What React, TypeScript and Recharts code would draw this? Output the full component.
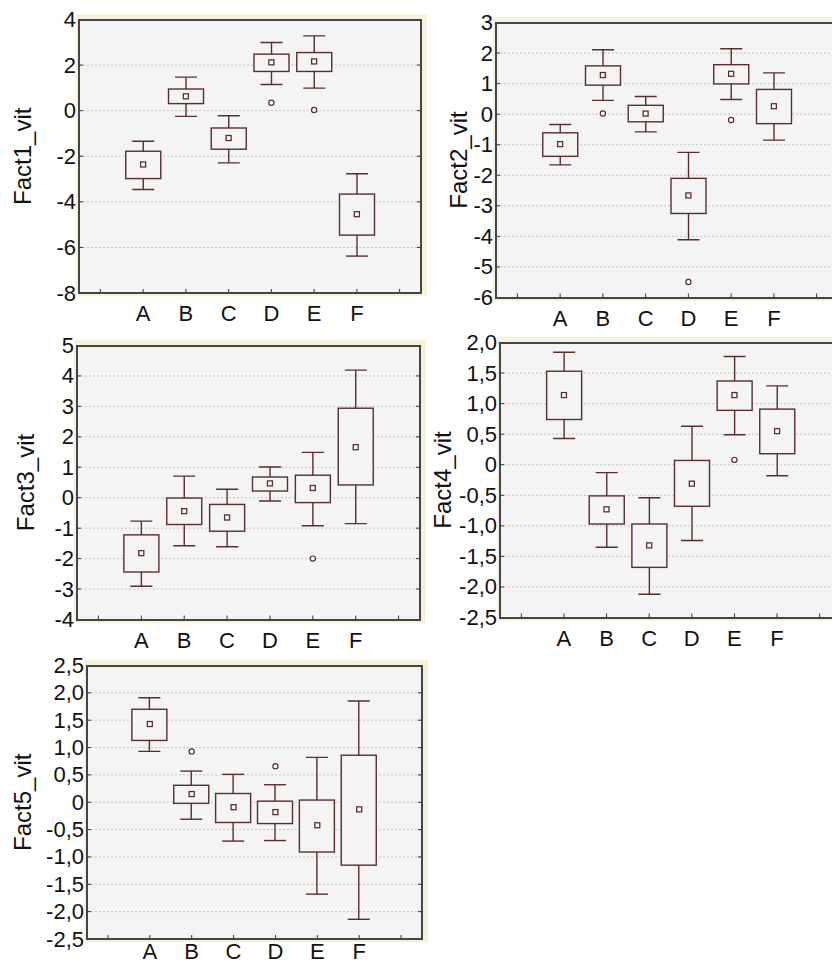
import { ComposedChart, Bar, Scatter, XAxis, YAxis, CartesianGrid, Label } from 'recharts';

const categories = ['A', 'B', 'C', 'D', 'E', 'F'];

// Fact1_vit
const fact1Min = [-3.46, -0.25, -2.29, 1.15, 0.99, -6.38];
const fact1Q1 = [-2.98, 0.31, -1.69, 1.72, 1.72, -5.46];
const fact1Med = [-2.36, 0.63, -1.2, 2.12, 2.16, -4.54];
const fact1Q3 = [-1.78, 0.95, -0.76, 2.48, 2.55, -3.66];
const fact1Max = [-1.34, 1.47, -0.22, 2.99, 3.28, -2.77];
const fact1Out = [null, null, null, 0.35, 0.03, null];
const fact1Ticks = [-8, -6, -4, -2, 0, 2, 4];

// Fact2_vit
const fact2Min = [-1.66, 0.45, -0.58, -4.11, 0.48, -0.85];
const fact2Q1 = [-1.38, 0.95, -0.25, -3.25, 0.99, -0.31];
const fact2Med = [-0.98, 1.28, 0.02, -2.66, 1.32, 0.26];
const fact2Q3 = [-0.61, 1.58, 0.29, -2.1, 1.62, 0.81];
const fact2Max = [-0.34, 2.11, 0.58, -1.25, 2.14, 1.35];
const fact2Out = [null, 0.02, null, -5.49, -0.19, null];
const fact2Ticks = [-6, -5, -4, -3, -2, -1, 0, 1, 2, 3];

// Fact3_vit
const fact3Min = [-2.91, -1.58, -1.61, -0.11, -0.92, -0.85];
const fact3Q1 = [-2.44, -0.88, -1.1, 0.22, -0.16, 0.42];
const fact3Med = [-1.82, -0.44, -0.65, 0.47, 0.32, 1.66];
const fact3Q3 = [-1.22, -0.01, -0.22, 0.68, 0.74, 2.94];
const fact3Max = [-0.77, 0.71, 0.28, 1.01, 1.49, 4.19];
const fact3Out = [null, null, null, null, -2.0, null];
const fact3Ticks = [-4, -3, -2, -1, 0, 1, 2, 3, 4, 5];

// Fact4_vit
const fact4Min = [0.43, -1.35, -2.12, -1.24, 0.49, -0.18];
const fact4Q1 = [0.74, -0.97, -1.68, -0.68, 0.89, 0.18];
const fact4Med = [1.14, -0.73, -1.32, -0.31, 1.14, 0.55];
const fact4Q3 = [1.53, -0.51, -0.97, 0.07, 1.37, 0.91];
const fact4Max = [1.84, -0.13, -0.54, 0.63, 1.77, 1.29];
const fact4Out = [null, null, null, null, 0.08, null];
const fact4Ticks = [-2.5, -2, -1.5, -1, -0.5, 0, 0.5, 1, 1.5, 2];

// Fact5_vit
const fact5Min = [0.93, -0.31, -0.71, -0.7, -1.68, -2.14];
const fact5Q1 = [1.13, -0.02, -0.37, -0.39, -0.91, -1.15];
const fact5Med = [1.43, 0.15, -0.09, -0.18, -0.42, -0.13];
const fact5Q3 = [1.7, 0.31, 0.16, 0.02, 0.04, 0.86];
const fact5Max = [1.91, 0.57, 0.51, 0.32, 0.82, 1.85];
const fact5Out = [null, 0.93, null, 0.66, null, null];
const fact5Ticks = [-2.5, -2, -1.5, -1, -0.5, 0, 0.5, 1, 1.5, 2, 2.5];

const INK = '#5b2d2d';
const PLOT_BG = '#f4f4f4';
const FONT = '"Liberation Sans", Arial, sans-serif';

function buildRows(min, q1, med, q3, max, out) {
  const rows = categories.map((c, i) => ({
    name: c,
    whisker: [min[i], max[i]],
    box: [q1[i], q3[i]],
    med: med[i],
    out: out[i],
  }));
  return [{ name: 'pre' }, ...rows, { name: 'post' }];
}

const intFmt = (v) => String(v);
const commaFmt = (v) => (v === 0 ? '0' : v.toFixed(1).replace('.', ','));

const WhiskerShape = (props) => {
  const { x, y, width, height, payload } = props;
  if (!payload || !payload.whisker || x == null || y == null) return <g />;
  const cx = x + width / 2;
  const top = Math.min(y, y + height);
  const bot = Math.max(y, y + height);
  return (
    <g stroke={INK} strokeWidth={1.4} fill="none">
      <line x1={cx} x2={cx} y1={top} y2={bot} />
      <line x1={cx - 11} x2={cx + 11} y1={top} y2={top} />
      <line x1={cx - 11} x2={cx + 11} y1={bot} y2={bot} />
    </g>
  );
};

const BoxShape = (props) => {
  const { x, y, width, height, payload } = props;
  if (!payload || !payload.box || x == null || y == null) return <g />;
  const top = Math.min(y, y + height);
  return <rect x={x} y={top} width={width} height={Math.abs(height)} fill={PLOT_BG} stroke={INK} strokeWidth={1.4} />;
};

const MedShape = (props) => {
  const { cx, cy, payload } = props;
  if (!payload || payload.med == null || cx == null || cy == null) return <g />;
  return <rect x={cx - 2.5} y={cy - 2.5} width={5} height={5} fill="#ffffff" stroke={INK} strokeWidth={1.3} />;
};

const OutShape = (props) => {
  const { cx, cy, payload } = props;
  if (!payload || payload.out == null || cx == null || cy == null) return <g />;
  return <circle cx={cx} cy={cy} r={2.6} fill="#ffffff" stroke={INK} strokeWidth={1.2} />;
};

function Panel({ left, top, width, yw, mt, bottom, label, labelX, rows, ticks, fmt, labelDy = 28 }) {
  const height = bottom + 40;
  const plotW = width - yw;
  const plotH = bottom - mt;
  const domain = [ticks[0], ticks[ticks.length - 1]];

  const yTick = (p) => {
    const { y, payload } = p;
    return (
      <g>
        <text x={yw - 3} y={y} textAnchor="end" dominantBaseline="central" fontSize={22} fill="#111" fontFamily={FONT}>
          {fmt(payload.value)}
        </text>
        <line x1={yw} x2={yw + 4} y1={y} y2={y} stroke="#333" />
        <line x1={width - 4} x2={width} y1={y} y2={y} stroke="#333" />
      </g>
    );
  };

  const xTick = (p) => {
    const { x, payload } = p;
    const txt = categories.includes(payload.value) ? payload.value : '';
    return (
      <g>
        <line x1={x} x2={x} y1={bottom} y2={bottom - 4} stroke="#333" />
        <text x={x} y={bottom + labelDy} textAnchor="middle" fontSize={22} fill="#111" fontFamily={FONT}>
          {txt}
        </text>
      </g>
    );
  };

  const topTick = (p) => {
    const { x } = p;
    return <line x1={x} x2={x} y1={mt} y2={mt + 4} stroke="#333" />;
  };

  return (
    <div style={{ position: 'absolute', left, top, width, height }}>
      <div
        style={{
          position: 'absolute',
          left: yw - 3,
          top: mt - 6,
          width: plotW + 9,
          height: plotH + 9,
          background: '#f5f1dc',
        }}
      />
      <div style={{ position: 'absolute', left: 0, top: 0 }}>
        <ComposedChart
          width={width}
          height={height}
          data={rows}
          margin={{ top: mt, right: 0, bottom: 0, left: 0 }}
          barGap={-35}
        >
          <CartesianGrid vertical={false} fill={PLOT_BG} stroke="#c4c4c4" strokeDasharray="2 2" />
          <XAxis dataKey="name" type="category" height={40} axisLine={false} tickLine={false} tick={xTick} interval={0} />
          <XAxis
            xAxisId="top"
            orientation="top"
            dataKey="name"
            type="category"
            height={0}
            axisLine={false}
            tickLine={false}
            tick={topTick}
            interval={0}
          />
          <YAxis
            type="number"
            width={yw}
            domain={domain}
            ticks={ticks}
            interval={0}
            allowDataOverflow
            axisLine={false}
            tickLine={false}
            tick={yTick}
          >
            <Label
              content={() => (
                <text
                  x={labelX}
                  y={mt + plotH / 2}
                  transform={`rotate(-90, ${labelX}, ${mt + plotH / 2})`}
                  textAnchor="middle"
                  dominantBaseline="central"
                  fontSize={24}
                  fill="#111"
                  fontFamily={FONT}
                >
                  {label}
                </text>
              )}
            />
          </YAxis>
          <Bar dataKey="whisker" barSize={35} shape={WhiskerShape} isAnimationActive={false} />
          <Bar dataKey="box" barSize={35} shape={BoxShape} isAnimationActive={false} />
          <Scatter dataKey="med" shape={MedShape} isAnimationActive={false} />
          <Scatter dataKey="out" shape={OutShape} isAnimationActive={false} />
        </ComposedChart>
      </div>
      <div
        style={{
          position: 'absolute',
          left: yw - 1,
          top: mt - 1,
          width: plotW + 2,
          height: plotH + 2,
          boxSizing: 'border-box',
          border: '2px solid #454545',
          pointerEvents: 'none',
        }}
      />
    </div>
  );
}

export default function App() {
  return (
    <div
      style={{
        position: 'absolute',
        left: 0,
        top: 0,
        width: 832,
        height: 964,
        overflow: 'hidden',
        background: '#ffffff',
        fontFamily: FONT,
      }}
    >
      <Panel
        left={0}
        top={0}
        width={421}
        yw={79}
        mt={19.5}
        bottom={293}
        label="Fact1_vit"
        labelX={22}
        rows={buildRows(fact1Min, fact1Q1, fact1Med, fact1Q3, fact1Max, fact1Out)}
        ticks={fact1Ticks}
        fmt={intFmt}
      />
      <Panel
        left={420}
        top={0}
        width={418}
        yw={76}
        mt={22.5}
        bottom={297.5}
        label="Fact2_vit"
        labelX={38}
        rows={buildRows(fact2Min, fact2Q1, fact2Med, fact2Q3, fact2Max, fact2Out)}
        ticks={fact2Ticks}
        fmt={intFmt}
      />
      <Panel
        left={0}
        top={320}
        width={420}
        yw={77}
        mt={25.5}
        bottom={299.5}
        label="Fact3_vit"
        labelX={25}
        rows={buildRows(fact3Min, fact3Q1, fact3Med, fact3Q3, fact3Max, fact3Out)}
        ticks={fact3Ticks}
        fmt={intFmt}
      />
      <Panel
        left={420}
        top={320}
        width={421}
        yw={80}
        mt={22.5}
        bottom={297.5}
        label="Fact4_vit"
        labelX={22}
        rows={buildRows(fact4Min, fact4Q1, fact4Med, fact4Q3, fact4Max, fact4Out)}
        ticks={fact4Ticks}
        fmt={commaFmt}
      />
      <Panel
        left={0}
        top={640}
        width={422}
        yw={87}
        mt={25.5}
        bottom={299}
        label="Fact5_vit"
        labelX={22}
        labelDy={20}
        rows={buildRows(fact5Min, fact5Q1, fact5Med, fact5Q3, fact5Max, fact5Out)}
        ticks={fact5Ticks}
        fmt={commaFmt}
      />
    </div>
  );
}
